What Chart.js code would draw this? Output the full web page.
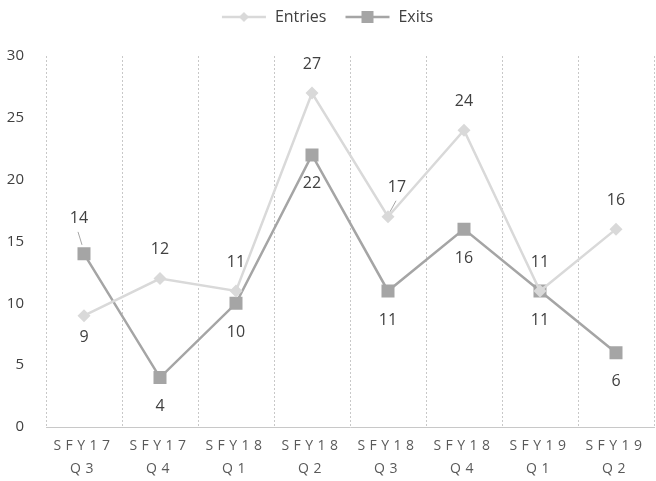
<!DOCTYPE html>
<html lang="en">
<head>
    <meta charset="UTF-8">
    <title>Entries and Exits</title>
    <script src="https://cdn.jsdelivr.net/npm/chart.js"></script>
    <style>
        html, body { margin: 0; padding: 0; background: #fff; }
        #wrap { width: 656px; height: 481px; }
    </style>
</head>
<body>
    <div id="wrap"><canvas id="lineChart"></canvas></div>

    <script>
        // chart data
        const quarters = [['SFY17', 'Q3'], ['SFY17', 'Q4'], ['SFY18', 'Q1'], ['SFY18', 'Q2'],
                          ['SFY18', 'Q3'], ['SFY18', 'Q4'], ['SFY19', 'Q1'], ['SFY19', 'Q2']];
        const entries = [9, 12, 11, 27, 17, 24, 11, 16];
        const exits = [14, 4, 10, 22, 11, 16, 11, 6];
        const yTicks = [0, 5, 10, 15, 20, 25, 30];

        // where each value label sits (above / below the point)
        const entriesLabelPos = ['below', 'above', 'above', 'above', 'above', 'above', 'above', 'above'];
        const exitsLabelPos = ['above', 'below', 'below', 'below', 'below', 'below', 'below', 'below'];

        const entriesColor = '#d9d9d9';
        const exitsColor = '#a5a5a5';
        const fontFamily = "'Open Sans', 'Liberation Sans', sans-serif";

        // legend icon: short line with the marker in the middle
        function legendIcon(color, shape) {
            const c = document.createElement('canvas');
            c.width = 46; c.height = 14;
            const g = c.getContext('2d');
            g.strokeStyle = color;
            g.lineWidth = 2.5;
            g.beginPath(); g.moveTo(1, 7); g.lineTo(45, 7); g.stroke();
            g.fillStyle = color;
            if (shape === 'diamond') {
                g.beginPath(); g.moveTo(23, 2); g.lineTo(28, 7); g.lineTo(23, 12); g.lineTo(18, 7); g.closePath(); g.fill();
            } else {
                g.fillRect(17, 1, 12, 12);
            }
            return c;
        }

        const valueLabels = {
            id: 'valueLabels',
            afterDatasetsDraw(chart) {
                const ctx = chart.ctx;
                ctx.save();
                ctx.font = '16px ' + fontFamily;
                ctx.fillStyle = '#404040';
                ctx.textAlign = 'center';
                ctx.textBaseline = 'middle';
                const posList = [entriesLabelPos, exitsLabelPos];
                chart.data.datasets.forEach((ds, i) => {
                    chart.getDatasetMeta(i).data.forEach((pt, j) => {
                        let dy = posList[i][j] === 'above' ? -29 : 29;
                        let dx = 0;
                        if (i === 0 && j === 0) dy = 22;
                        if (i === 0 && j === 4) dx = 9;
                        if (i === 1 && j === 0) { dx = -5; dy = -35; }
                        ctx.fillText(ds.data[j], pt.x + dx, pt.y + dy);
                    });
                });
                // small leader lines for the two labels that were moved off their points
                ctx.strokeStyle = '#a6a6a6';
                ctx.lineWidth = 1;
                const p14 = chart.getDatasetMeta(1).data[0];
                ctx.beginPath(); ctx.moveTo(p14.x - 6, p14.y - 22); ctx.lineTo(p14.x - 2, p14.y - 9); ctx.stroke();
                const p17 = chart.getDatasetMeta(0).data[4];
                ctx.beginPath(); ctx.moveTo(p17.x + 8, p17.y - 16); ctx.lineTo(p17.x + 2, p17.y - 5); ctx.stroke();
                ctx.restore();
            }
        };

        // spaced lettering on the category axis, extra room under the legend
        const layoutTweaks = {
            id: 'layoutTweaks',
            beforeLayout(chart) {
                const lg = chart.legend;
                if (lg && !lg._tweaked) {
                    const fit = lg.fit.bind(lg);
                    lg.fit = function () { fit(); this.height += 21; };
                    lg._tweaked = true;
                }
            },
            afterLayout(chart) {
                const s = chart.scales.x;
                if (s._spaced) return;
                const orig = s.drawLabels.bind(s);
                s.drawLabels = function (area) {
                    const c = this.ctx;
                    c.save();
                    c.letterSpacing = '4.5px';
                    orig(area);
                    c.restore();
                };
                s._spaced = true;
            }
        };

        const data = {
            labels: quarters,
            datasets: [{
                label: 'Entries',
                data: entries,
                borderColor: entriesColor,
                backgroundColor: entriesColor,
                borderWidth: 2.5,
                pointStyle: 'rectRot',
                pointRadius: 6.5,
                pointBorderWidth: 0,
                tension: 0
            }, {
                label: 'Exits',
                data: exits,
                borderColor: exitsColor,
                backgroundColor: exitsColor,
                borderWidth: 2.5,
                pointStyle: 'rect',
                pointRadius: 9.2,
                pointBorderWidth: 0,
                tension: 0
            }]
        };

        const config = {
            type: 'line',
            data: data,
            options: {
                responsive: true,
                maintainAspectRatio: false,
                animation: false,
                layout: { autoPadding: false, padding: { top: -9, right: 2, left: 0, bottom: 0 } },
                plugins: {
                    legend: {
                        position: 'top',
                        labels: {
                            color: '#404040',
                            font: { family: fontFamily, size: 16 },
                            usePointStyle: true,
                            pointStyleWidth: 46,
                            padding: 18,
                            generateLabels(chart) {
                                return [
                                    { text: 'Entries', pointStyle: legendIcon(entriesColor, 'diamond'), fillStyle: entriesColor, strokeStyle: entriesColor, lineWidth: 0, datasetIndex: 0, fontColor: '#404040' },
                                    { text: 'Exits', pointStyle: legendIcon(exitsColor, 'square'), fillStyle: exitsColor, strokeStyle: exitsColor, lineWidth: 0, datasetIndex: 1, fontColor: '#404040' }
                                ];
                            }
                        }
                    },
                    tooltip: { enabled: false }
                },
                scales: {
                    x: {
                        offset: true,
                        grid: { display: true, offset: true, color: '#c8c8c8', lineWidth: 1, drawTicks: false },
                        border: { display: true, color: '#c8c8c8', dash: [2, 2] },
                        ticks: { color: '#595959', font: { family: fontFamily, size: 14, lineHeight: 1.65 }, padding: 7, maxRotation: 0 },
                        afterFit(scale) { scale.height = 54; }
                    },
                    y: {
                        min: 0,
                        max: 30,
                        afterBuildTicks(scale) { scale.ticks = yTicks.map(v => ({ value: v })); },
                        grid: { display: false },
                        border: { display: false },
                        ticks: { color: '#404040', font: { family: fontFamily, size: 15 }, padding: 14 },
                        afterFit(scale) { scale.width = 46; }
                    }
                }
            },
            plugins: [valueLabels, layoutTweaks]
        };

        const ctxLine = document.getElementById('lineChart').getContext('2d');
        new Chart(ctxLine, config);
    </script>
</body>
</html>
